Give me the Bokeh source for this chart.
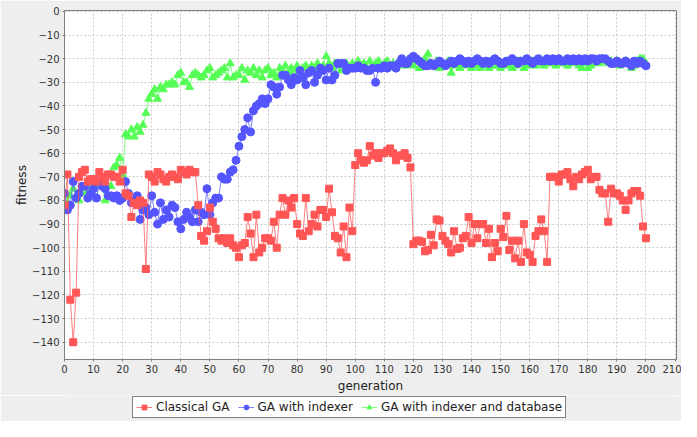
from bokeh.plotting import figure
from bokeh.layouts import column
from bokeh.models import Legend, LegendItem, Range1d, SingleIntervalTicker
from bokeh.embed import file_html
from bokeh.resources import INLINE

# ---------------- data ----------------
classical_ga = [
    -82, -69, -122, -140, -119, -70, -68, -67, -72, -71,
    -71, -72, -68, -70, -72, -69, -69, -70, -70, -72,
    -67, -77, -78, -87, -81, -82, -80, -81, -109, -69,
    -70, -72, -68, -69, -71, -72, -70, -69, -70, -71,
    -67, -68, -69, -67, -68, -68, -82, -95, -97, -93,
    -83, -89, -92, -96, -97, -96, -98, -96, -99, -100,
    -104, -99, -98, -87, -94, -104, -86, -102, -100, -96,
    -96, -97, -89, -100, -86, -79, -86, -80, -83, -79,
    -90, -94, -95, -79, -93, -90, -86, -91, -84, -84,
    -87, -75, -85, -95, -96, -102, -91, -104, -83, -93,
    -65, -60, -63, -64, -63, -57, -61, -60, -62, -60,
    -60, -59, -58, -60, -63, -61, -61, -60, -62, -66,
    -98.5, -97, -97, -97.5, -101.5, -101, -94.5, -99, -88, -88.5,
    -95, -97, -98.5, -102, -93, -100.5, -100, -96, -95, -87,
    -98, -90, -96, -90, -90, -98, -92, -104, -98, -101.5,
    -92, -95.5, -86.5, -101, -97, -104.5, -97, -106, -90, -102,
    -103, -106, -95, -93, -88, -93, -106, -70, -70, -70,
    -72, -69, -69, -68, -71, -74, -70, -71, -69, -68,
    -67, -71, -70, -70, -75.5, -77, -77, -89, -75, -77,
    -77, -78, -80, -84, -80, -77, -76, -76, -78, -91,
    -96,
]

ga_indexer = [
    -77, -84, -82, -72, -79, -77, -74, -74, -79, -77,
    -75, -79, -72, -74, -75, -78, -78, -79, -78, -80,
    -79, -72, -77, -81, -80, -78, -88, -84, -83, -86,
    -78, -85, -90, -81, -88, -84, -87, -82, -83, -89,
    -92, -88, -85, -87, -89, -84, -89, -85, -86, -75,
    -86, -81, -79, -79, -70, -71, -71, -68, -67, -63,
    -57, -53, -50, -45, -51, -42, -40, -39, -37, -39,
    -37, -31, -32, -35, -32, -27, -27, -29, -31, -28,
    -29, -25, -28, -31, -26, -25, -30, -27, -24, -25,
    -29, -24, -29, -27, -22, -22, -22, -25, -24, -24,
    -24, -23, -24, -24, -25, -25, -24, -30, -24, -24,
    -23, -24, -23, -23, -24, -22, -20, -22, -22, -20,
    -19, -20, -21, -22, -23, -23, -22, -23, -22, -21,
    -22, -23, -22, -21, -22, -21, -20, -21, -22, -21,
    -22, -21, -20, -21, -22, -21, -22, -21, -20, -21,
    -22, -22, -21, -21, -20, -21, -22, -21, -21, -20,
    -21, -22, -21, -20, -21, -21, -20, -21, -20, -21,
    -20, -21, -21, -20, -21, -20, -21, -20, -21, -20,
    -21, -20, -20, -21, -20, -20, -20, -21, -22, -22,
    -21, -22, -22, -21, -22, -23, -21, -22, -21, -22,
    -23,
]

ga_indexer_db = [
    -84, -81, -78, -75, -78, -80, -77, -74, -76, -75,
    -74, -79, -73, -74, -80, -74, -74, -66, -65, -62,
    -69, -52, -53, -50, -53, -49, -51, -48, -43, -37,
    -35, -33, -37, -32, -33, -31, -31, -30, -31, -27,
    -26, -30, -30, -32, -27, -26, -27, -28, -27, -25,
    -24, -28, -27, -26, -25, -24, -28, -22, -28, -27,
    -27, -24, -29, -25, -26, -24, -27, -25, -28, -25,
    -24, -27, -26, -28, -24, -25, -23, -26, -24, -25,
    -23, -26, -24, -23, -25, -23, -24, -22, -25, -23,
    -19, -22, -24, -22, -23, -25, -23, -22, -24, -22,
    -23, -21, -23, -22, -24, -21, -23, -22, -21, -24,
    -22, -21, -23, -22, -24, -21, -22, -23, -21, -22,
    -23, -21, -24, -22, -20, -18, -22, -23, -21, -24,
    -22, -23, -21, -26, -23, -22, -24, -21, -23, -22,
    -24, -23, -22, -24, -23, -22, -24, -23, -21, -23,
    -24, -22, -23, -22, -24, -23, -21, -22, -24, -23,
    -22, -21, -23, -22, -21, -23, -22, -21, -22, -23,
    -22, -21, -22, -23, -21, -22, -21, -23, -24, -22,
    -24, -23, -22, -21, -22, -20, -21, -22, -21, -22,
    -21, -23, -22, -21, -22, -24, -23, -21, -20, -20,
    -22,
]

series_names = ["Classical GA", "GA with indexer", "GA with indexer and database"]
series_colors = ["#FF5555", "#5555FF", "#55FF55"]
series_markers = ["square", "circle", "triangle"]
series_sizes = [7, 8, 8]

FONT = "DejaVu Sans"
BG = "#EEEEEE"

p = figure(width=681, height=395, output_backend="svg", toolbar_location=None,
           x_range=Range1d(0, 210.5), y_range=Range1d(-147.3, 0.4),
           min_border_left=64, min_border_right=5, min_border_top=10,
           min_border_bottom=36)
p.background_fill_color = "white"
p.border_fill_color = BG
p.outline_line_color = "#808080"

p.xaxis.ticker = SingleIntervalTicker(interval=10, num_minor_ticks=0)
p.yaxis.ticker = SingleIntervalTicker(interval=10, num_minor_ticks=0)
for ax in (p.xaxis[0], p.yaxis[0]):
    ax.axis_line_color = "#808080"
    ax.major_tick_line_color = "#808080"
    ax.major_tick_out = 2
    ax.major_tick_in = 0
    ax.minor_tick_line_color = None
    ax.major_label_text_font = FONT
    ax.major_label_text_font_size = "10px"
    ax.major_label_text_color = "#333333"
    ax.axis_label_text_font = FONT
    ax.axis_label_text_font_size = "12px"
    ax.axis_label_text_font_style = "normal"
    ax.axis_label_text_color = "#222222"
    ax.major_label_standoff = 3
p.xaxis.axis_label_standoff = 3
p.yaxis.axis_label_standoff = 0
p.xaxis.axis_label = "generation"
p.yaxis.axis_label = "fitness"

for g in (p.xgrid[0], p.ygrid[0]):
    g.grid_line_color = "#C8C8C8"
    g.grid_line_dash = "2 2"
    g.grid_line_width = 1

datasets = [classical_ga, ga_indexer, ga_indexer_db]
# draw in reverse order so the first series is on top
for i in (2, 1, 0):
    ys = datasets[i]
    xs = list(range(len(ys)))
    p.line(xs, ys, line_color=series_colors[i], line_width=1, line_alpha=0.75)
    p.scatter(xs, ys, marker=series_markers[i], size=series_sizes[i],
              fill_color=series_colors[i], line_color=series_colors[i])

# ---------------- legend strip ----------------
lf = figure(width=681, height=26, output_backend="svg", toolbar_location=None,
            x_range=Range1d(0, 1), y_range=Range1d(0, 1),
            x_axis_type=None, y_axis_type=None, min_border=0)
lf.grid.visible = False
lf.outline_line_color = None
lf.background_fill_color = BG
lf.border_fill_color = BG
items = []
for i in range(3):
    # proxy glyphs placed outside the visible range, used only for the legend
    ln = lf.line([-5, -4], [-5, -5], line_color=series_colors[i], line_width=1, line_alpha=0.75)
    sc = lf.scatter([-5], [-5], marker=series_markers[i], size=series_sizes[i] - 1,
                    fill_color=series_colors[i], line_color=series_colors[i])
    items.append(LegendItem(label=series_names[i], renderers=[ln, sc]))

legend = Legend(items=items, orientation="horizontal", location=(68, 3),
                label_text_font=FONT, label_text_font_size="12px",
                label_text_color="#222222",
                border_line_color="black", border_line_width=1,
                background_fill_color="white", background_fill_alpha=1.0,
                glyph_width=16, glyph_height=12, label_standoff=4,
                spacing=8, padding=3, margin=0)
lf.add_layout(legend, "center")

layout = column(p, lf, spacing=0)
open("out.html", "w").write(file_html(layout, INLINE))
